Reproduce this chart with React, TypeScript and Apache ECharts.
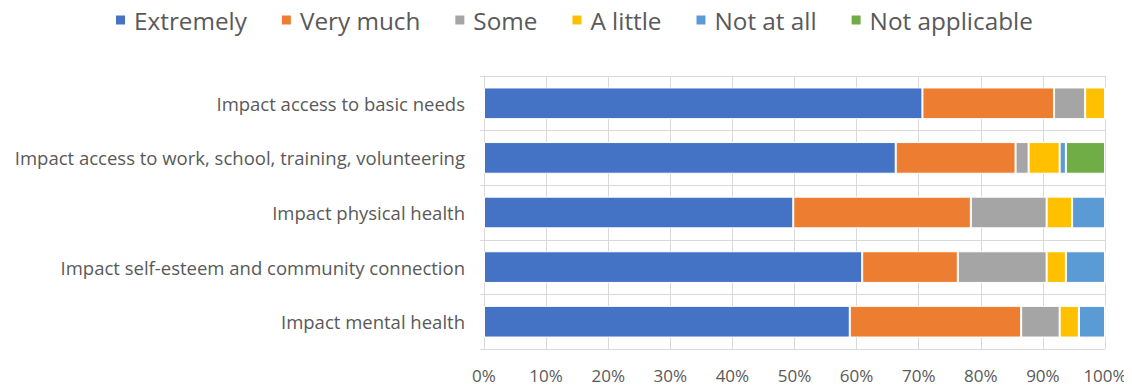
import React, { useEffect, useRef } from "react";
import * as echarts from "echarts";

const categories = [
  "Impact access to basic needs",
  "Impact access to work, school, training, volunteering",
  "Impact physical health",
  "Impact self-esteem and community connection",
  "Impact mental health",
];
const extremely = [70.6, 66.3, 49.8, 60.9, 58.9];
const veryMuch = [21.2, 19.3, 28.6, 15.4, 27.6];
const some = [5.0, 2.1, 12.2, 14.3, 6.2];
const aLittle = [3.2, 5.0, 4.1, 3.1, 3.1];
const notAtAll = [0, 1.0, 5.3, 6.3, 4.2];
const notApplicable = [0, 6.3, 0, 0, 0];

const seriesDefs = [
  { name: "Extremely", data: extremely, color: "#4472C4" },
  { name: "Very much", data: veryMuch, color: "#ED7D31" },
  { name: "Some", data: some, color: "#A5A5A5" },
  { name: "A little", data: aLittle, color: "#FFC000" },
  { name: "Not at all", data: notAtAll, color: "#5B9BD5" },
  { name: "Not applicable", data: notApplicable, color: "#70AD47" },
];

export default function App() {
  const ref = useRef<HTMLDivElement>(null);
  useEffect(() => {
    const chart = echarts.init(ref.current!, null, { renderer: "svg" });
    const font = "Open Sans";
    chart.setOption({
      animation: false,
      textStyle: { fontFamily: font },
      legend: {
        top: 3,
        left: 106,
        padding: 0,
        itemWidth: 11,
        itemHeight: 11,
        itemGap: 33,
        icon: "rect",
        textStyle: {
          fontSize: 24.3,
          lineHeight: 34,
          color: "#595959",
          fontFamily: font,
          padding: [0, 0, 0, 3],
        },
        data: seriesDefs.map((s) => s.name),
      },
      grid: { left: 476, right: 27, top: 76, bottom: 36, containLabel: false },
      xAxis: {
        type: "value",
        min: 0,
        max: 100,
        interval: 10,
        axisLine: { show: false },
        axisTick: { show: false },
        splitLine: { show: true, lineStyle: { color: "#D9D9D9", width: 1 } },
        axisLabel: {
          formatter: "{value}%",
          fontSize: 17,
          lineHeight: 18,
          color: "#595959",
          margin: 17,
          fontFamily: font,
        },
      },
      yAxis: {
        type: "category",
        inverse: true,
        data: categories,
        axisLine: { show: true, lineStyle: { color: "#D9D9D9" } },
        axisTick: { show: true, length: 4, lineStyle: { color: "#D9D9D9" } },
        splitLine: { show: true, lineStyle: { color: "#D9D9D9" } },
        axisLabel: { fontSize: 18.5, color: "#595959", margin: 19, fontFamily: font },
      },
      series: seriesDefs.map((s) => ({
        name: s.name,
        type: "bar",
        stack: "total",
        data: s.data,
        barCategoryGap: "42%",
        itemStyle: { color: s.color, borderColor: "#FFFFFF", borderWidth: 1 },
      })),
    });
    return () => chart.dispose();
  }, []);
  return (
    <div
      ref={ref}
      style={{ position: "relative", top: -8, width: 1124, height: 385 }}
    />
  );
}
